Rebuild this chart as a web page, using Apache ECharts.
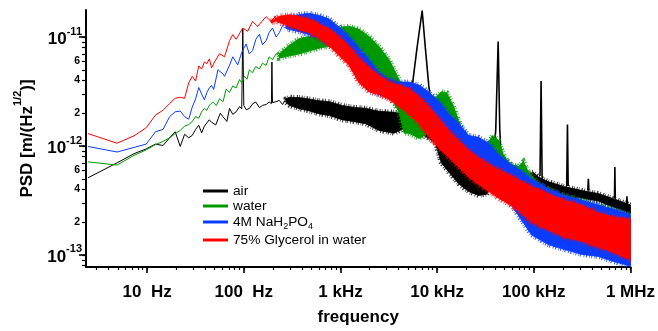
<!DOCTYPE html>
<html><head><meta charset="utf-8">
<script src="https://cdn.jsdelivr.net/npm/echarts@6/dist/echarts.min.js"></script>
<style>html,body{margin:0;padding:0;background:#fff}#c{width:658px;height:331px}</style>
</head><body><div id="c"></div>
<script>
// values are in units of 1e-13 m/sqrt(Hz)
const UNIT = 1e-13;
const seriesNames = ['air', 'water', '4M NaH2PO4', '75% Glycerol in water'];
const xMajorTicks = [10, 100, 1e3, 1e4, 1e5, 1e6];
const xTickLabels = ['10  Hz', '100  Hz', '1 kHz', '10 kHz', '100 kHz', '1 MHz'];
const yMajorTicks = [1e-13, 1e-12, 1e-11];
const yMajorExp = ['-13', '-12', '-11'];
const yMinorLabelTicks = [2e-13, 4e-13, 6e-13, 2e-12, 4e-12, 6e-12];

// ---- air ----
const airLowF = [2.44,4.88,7.32,9.77,12.2,14.6,17.1,19.5,22.0,24.4,26.9,29.3,31.7,34.2,36.6,39.1,41.5,43.9,46.4,51.2,57.1,61.0,66.8,71.1,76.9,83.3,90.3,95.2,97.6,100,106,114,124,133,145,156,170,183,193,195.3,198,216,233,252,273,295,319,345,375];
const airLowV = [5.1,7.0,8.5,9.4,10.4,10.1,11.9,13.5,9.9,12.8,11.9,12.5,14.2,15.5,13.2,15.2,16.3,17.4,16.5,15.6,20.0,18.5,16.8,22.1,19.5,20.6,23.0,22.0,119,23.5,21.5,22.1,24.5,25.3,22.5,23.6,24.0,25.3,24.5,59,25.0,25.5,26.2,24.0,27.1,25.0,23.6,26.5,25.3];
const airSpikeF = [5140,5560,6200,7000,7550,8200,9600,null,36700,40400,42800,44500,46500,null,116000,119000,122000,null,219000,223000,227000,null,362000,367000,372000,null,684000,690000,697000,null,912000,920000,928000];
const airSpikeV = [19.3,37,80,175,80,35.6,12.8,null,5.0,14,91,14,6.0,null,5.3,39.4,5.0,null,4.3,15.7,4.3,null,3.9,5.0,3.9,null,3.3,6.4,3.3,null,2.95,3.45,2.95];
const airBandF = [273,295,375,474,603,770,1040,1400,1830,2506,3580,4550,5140,6480,8200,9600,11000,13200,16700,21200,26900,32500,36700,43200,48600,61700,78300,99300,112000,142000,207000,315000,464000,697000,1000000];
const airBandHi = [27.0,28.0,27.8,27.0,26.0,25.5,23.5,22.6,22.2,20.8,20.4,19.6,19.6,18.8,17.0,13.0,9.2,8.3,6.5,5.5,4.98,5.3,6.1,6.5,6.1,5.5,5.5,5.7,5.2,4.7,4.24,3.9,3.66,3.24,2.87];
const airBandLo = [25.0,23.6,22.0,21.0,19.7,19.0,17.4,16.7,16.0,13.9,13.1,14.5,13.9,13.1,11.8,10.6,7.07,5.76,4.5,3.82,3.52,3.6,4.24,4.5,4.7,4.24,4.24,4.24,4.06,3.82,3.45,3.31,3.12,2.7,2.39];

// ---- water ----
const waterLowF = [2.44,4.88,7.32,9.77,12.2,14.6,17.1,19.5,22.0,24.4,26.9,29.3,31.7,34.2,36.6,39.1,41.5,43.9,47.8,52,56.1,61,65.7,71,76.9,83,90.3,95,101.5,108,114,123,133,145,156,170,183,198,216,233,252,273,295];
const waterLowV = [7.15,6.68,8.2,9.2,10.3,11.0,11.9,13.0,13.9,15.2,15.7,16.8,18.6,18.0,20.6,22.1,21.3,23.6,25.3,23.5,27.1,25.5,33.3,31,35.6,34,40.7,38,43.6,41,50,47,53.6,51,57.4,55,65.8,62,70.3,67,75.2,72,80.7];
const waterBandF = [233,295,375,474,603,770,970,1230,1560,1980,2506,3200,4030,4550,5140,6480,8200,9900,11000,12600,14800,17500,21200,25700,32500,37500,43200,48600,57400,69500,78300,88200,112000,179000,464000,1000000];
const waterBandHi = [70,84,97,101,107,113.5,123,125.5,118,101,82,61.8,41,28.4,25.7,23.1,23.1,28.4,31.4,30.8,23.1,15.4,11.3,10.2,10.2,12.5,11.3,8.3,6.78,6.5,7.2,5.76,4.5,3.66,2.87,2.34];
const waterBandLo = [64,67,70,74.3,79,82.4,85.8,82.4,70,57,42.7,29.6,20.4,13.1,13.1,11.7,13.1,17.8,19.6,17.8,13.1,9.6,7.07,6.0,5.76,6.38,5.76,4.7,3.82,3.45,3.45,3.12,2.29,1.52,1.08,0.87];

// ---- 4M NaH2PO4 ----
const naLowF = [2.44,4.88,7.32,9.77,12.2,14.6,17.1,19.5,22.0,24.4,26.9,29.3,31.7,34.2,36.6,39.1,41.5,43.9,46.4,48.8,54,60.7,63.1,71.1,76.9,86.5,95,105.6,114,123.4,133,145,156,170,183,198,216,233,252,273,295,319,345,375];
const naLowV = [9.9,8.8,9.7,10.4,13.5,14.2,18.6,20.6,20.9,18.6,17.6,22.8,27,34.4,30,26.5,31,34,36,33,50,46,43.6,55,65.8,55.5,72,86.4,70,75.2,95,106,85,92.4,110,121,100,109.6,128,139,118,130,140,154];
const naBandF = [273,295,375,474,603,770,970,1230,1560,1980,2506,3200,4030,5140,6480,8200,10400,13200,16700,21200,26900,34200,43200,54800,69500,95000,142000,207000,315000,464000,664000,1000000];
const naBandHi = [135,147,161,165,158,146,123,101,79,61.8,47.3,41,38.6,38.6,36.3,31.4,25.7,19.6,16.1,12.5,12.0,10.6,8.3,7.07,6.1,4.98,4.06,3.52,3.17,2.87,2.64,2.34];
const naBandLo = [120,117,112,105,97,86,74.3,60.5,40.2,32.8,29.6,27.9,25.1,23.1,21.7,17.8,14.5,10.6,8.66,7.8,6.78,5.2,3.82,3.12,2.29,1.52,1.24,1.12,1.01,0.97,0.87,0.79];

// ---- 75% glycerol ----
const glyLowF = [2.44,4.88,7.32,9.77,12.2,14.6,17.1,19.5,22.0,24.4,26.9,29.3,31.7,34.2,36.6,39.1,41.5,44.0,46.4,49.9,56.1,63.1,71.1,76.9,83.3,97.6,109.6,123.4,138.7,170,191,216];
const glyLowV = [13.0,10.6,12.4,14.7,19.2,21.3,24.5,27.4,28,27.4,38,43.6,39.4,54.3,50.7,59,57,63,52,59.3,70.3,65.8,92.4,105,95.4,121,113,139,125,154,139,157];
const glyBandF = [191,216,233,295,375,474,603,770,970,1230,1560,1980,2506,3200,4030,5140,6480,8200,10400,13200,16700,21200,26900,34200,43200,54800,69500,95000,142000,207000,315000,464000,664000,1000000];
const glyBandHi = [139,150,155,160,155,146,131.8,118.6,101,82.4,64.5,52.5,44.5,38.6,36.3,33.5,28.4,23.1,18.0,13.9,11.3,9.2,7.83,6.78,6.1,5.5,4.89,4.24,3.66,3.17,2.87,2.44,2.24,2.1];
const glyBandLo = [135,140,135,127,116,109.6,97,82.4,67.2,54.7,37.9,31.4,29.6,26.7,23.1,19.6,16.0,12.2,9.6,7.8,6.38,5.2,4.41,3.82,3.31,2.93,2.54,1.99,1.68,1.46,1.33,1.18,1.05,0.91];

const COLORS = {air:'#000000', water:'#009a00', na:'#0a3cff', gly:'#ff0000'};
const FONT = '"Liberation Sans", Arial, sans-serif';
const xMin = 2.33, xMax = 1e6, yMin = 7.75e-14, yMax = 1.77e-11;

function minors(lo, hi, a, b) {
  const out = [];
  for (let e = lo; e <= hi; e++) for (let m = 1; m < 10; m++) {
    const v = m * Math.pow(10, e);
    if (v >= a * 0.999 && v <= b * 1.001) out.push(v);
  }
  return out;
}
const xMinor = minors(0, 6, xMin, xMax);
const yMinor = minors(-14, -11, yMin, yMax);

function pts(F, V) {
  return F.map((f, i) => (f == null || V[i] == null) ? '-' : [f, V[i] * UNIT]);
}
function lineSeries(name, color, F, V, z, w) {
  return {type:'line', name, data: pts(F, V), showSymbol:false, symbol:'none', z, clip:true,
    connectNulls:false, lineStyle:{color, width:w || 1}, itemStyle:{color}, emphasis:{disabled:true}, animation:false};
}
// noisy band: filled between the upper and lower envelopes,
// with an irregular dashed thick outline to imitate the frayed noise at the edges
const FRAY = [1, 1.2, 0.7, 2.1, 1.3, 1.5, 0.9, 2.6, 1.1, 1.0, 0.6, 1.9];
function bandSeries(name, color, F, HI, LO, z) {
  return {type:'custom', name, z, clip:true, animation:false,
    data: F.map((f, i) => [f, HI[i] * UNIT, LO[i] * UNIT]),
    encode: {x:0, y:[1, 2]},
    itemStyle:{color},
    renderItem: function (params, api) {
      if (params.dataIndex !== 0) return null;
      const p = [];
      for (let i = 0; i < F.length; i++) p.push(api.coord([F[i], HI[i] * UNIT]));
      for (let i = F.length - 1; i >= 0; i--) p.push(api.coord([F[i], LO[i] * UNIT]));
      return {type:'group', children:[
        {type:'polygon', shape:{points:p}, style:{fill:'none', stroke:color, lineWidth:5, lineDash:FRAY, opacity:0.8}},
        {type:'polygon', shape:{points:p}, style:{fill:color, stroke:color, lineWidth:0.8}}
      ]};
    }};
}
function idxOf(arr, v) {
  for (let i = 0; i < arr.length; i++) if (Math.abs(Math.log10(v) - Math.log10(arr[i])) < 1e-4) return i;
  return -1;
}

const legendRich = {sub:{fontSize:9, fontFamily:FONT, color:'#000', verticalAlign:'bottom', lineHeight:18}};
function legendFor(name, color, top) {
  return {data:[{name, icon:'rect', itemStyle:{color}}], left:203, top, orient:'vertical', padding:0,
    itemWidth:25, itemHeight:3, selectedMode:false,
    formatter: n => n === '4M NaH2PO4' ? '4M NaH{sub|2}PO{sub|4}' : n,
    textStyle:{fontSize:13.7, fontFamily:FONT, color:'#000', rich:legendRich}};
}

const chart = echarts.init(document.getElementById('c'), null, {renderer:'canvas'});
chart.setOption({
  animation:false,
  backgroundColor:'#fff',
  grid:{left:86, right:25, top:10, bottom:55},
  legend:[
    legendFor('air', COLORS.air, 184),
    legendFor('water', COLORS.water, 199),
    legendFor('4M NaH2PO4', COLORS.na, 215),
    legendFor('75% Glycerol in water', COLORS.gly, 233)
  ],
  xAxis:[
    {type:'log', min:xMin, max:xMax, position:'bottom',
      axisLine:{show:true, lineStyle:{color:'#000', width:2}},
      axisTick:{show:true, customValues:xMinor, length:3, lineStyle:{color:'#000', width:1.2}},
      axisLabel:{show:false}, splitLine:{show:false}},
    {type:'log', min:xMin, max:xMax, position:'bottom',
      axisLine:{show:false},
      axisTick:{show:true, customValues:xMajorTicks, length:6, lineStyle:{color:'#000', width:1.6}},
      axisLabel:{show:true, customValues:xMajorTicks, margin:17, color:'#000', fontSize:17, fontWeight:'bold', fontFamily:FONT,
        formatter: v => { const i = idxOf(xMajorTicks, v); return i >= 0 ? xTickLabels[i] : ''; }},
      splitLine:{show:false},
      name:'frequency', nameLocation:'middle', nameGap:42,
      nameTextStyle:{fontSize:17, fontWeight:'bold', color:'#000', fontFamily:FONT}}
  ],
  yAxis:[
    {type:'log', min:yMin, max:yMax, position:'left',
      axisLine:{show:true, lineStyle:{color:'#000', width:2}},
      axisTick:{show:true, customValues:yMinor, length:4, lineStyle:{color:'#000', width:1.2}},
      axisLabel:{show:true, customValues:yMinorLabelTicks, margin:6, color:'#000', fontSize:10.5, fontWeight:'bold', fontFamily:FONT,
        formatter: v => { const e = Math.floor(Math.log10(v) + 1e-9); return String(Math.round(v / Math.pow(10, e))); }},
      splitLine:{show:false}},
    {type:'log', min:yMin, max:yMax, position:'left',
      axisLine:{show:false},
      axisTick:{show:true, customValues:yMajorTicks, length:7, lineStyle:{color:'#000', width:1.6}},
      axisLabel:{show:true, customValues:yMajorTicks, margin:4, color:'#000', fontFamily:FONT,
        formatter: v => { const i = idxOf(yMajorTicks, v); return i >= 0 ? '{b|10}{s|' + yMajorExp[i] + '}' : ''; },
        rich:{b:{fontSize:17, fontWeight:'bold', fontFamily:FONT, color:'#000', lineHeight:22, verticalAlign:'bottom'},
              s:{fontSize:11, fontWeight:'bold', fontFamily:FONT, color:'#000', lineHeight:22, verticalAlign:'top'}}},
      splitLine:{show:false},
      name:'{t|PSD [m/(Hz}{s|1/2}{t|)]}', nameLocation:'middle', nameGap:50, nameRotate:90,
      nameTextStyle:{color:'#000', fontFamily:FONT,
        rich:{t:{fontSize:17, fontWeight:'bold', fontFamily:FONT, color:'#000', lineHeight:24, verticalAlign:'bottom'},
              s:{fontSize:11, fontWeight:'bold', fontFamily:FONT, color:'#000', lineHeight:24, verticalAlign:'top'}}}}
  ],
  series:[
    bandSeries('air', COLORS.air, airBandF, airBandHi, airBandLo, 2),
    lineSeries('air', COLORS.air, airLowF, airLowV, 2, 1),
    lineSeries('air', COLORS.air, airSpikeF, airSpikeV, 2, 1.6),
    bandSeries('water', COLORS.water, waterBandF, waterBandHi, waterBandLo, 3),
    lineSeries('water', COLORS.water, waterLowF, waterLowV, 3, 1),
    bandSeries('4M NaH2PO4', COLORS.na, naBandF, naBandHi, naBandLo, 4),
    lineSeries('4M NaH2PO4', COLORS.na, naLowF, naLowV, 4, 1),
    bandSeries('75% Glycerol in water', COLORS.gly, glyBandF, glyBandHi, glyBandLo, 5),
    lineSeries('75% Glycerol in water', COLORS.gly, glyLowF, glyLowV, 5, 1)
  ]
});
</script>
</body></html>
